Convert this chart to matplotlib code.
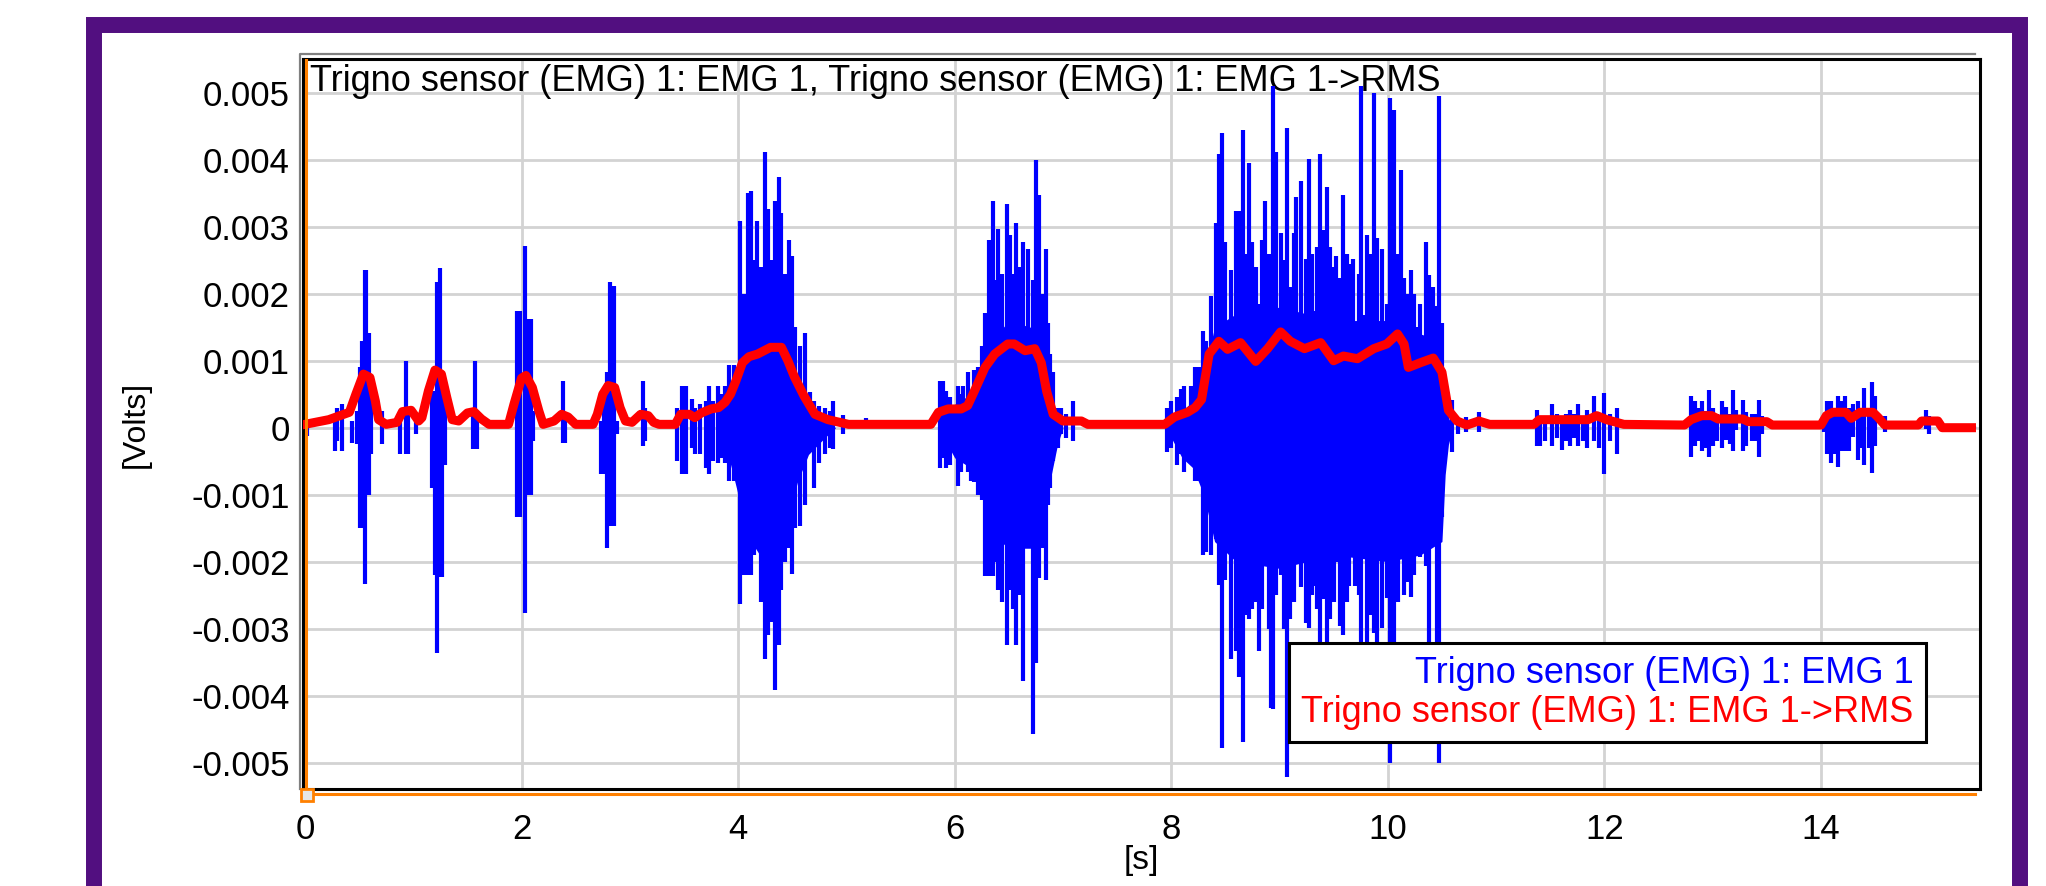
import numpy as np
import matplotlib
matplotlib.use("Agg")
import matplotlib.pyplot as plt
from matplotlib.patches import Rectangle
from matplotlib.lines import Line2D

plt.rcParams['font.family'] = ['Liberation Sans', 'DejaVu Sans']

raw_name = "Trigno sensor (EMG) 1: EMG 1"
rms_name = "Trigno sensor (EMG) 1: EMG 1->RMS"

# RMS envelope, time [s] and value [mV]
rms_t = [0.0, 0.22, 0.41, 0.47, 0.54, 0.6, 0.65, 0.68, 0.75, 0.85, 0.9, 0.98, 1.05, 1.08,
         1.14, 1.2, 1.26, 1.31, 1.36, 1.42, 1.5, 1.56, 1.63, 1.7, 1.88, 1.93, 2.0, 2.04,
         2.1, 2.16, 2.2, 2.3, 2.37, 2.43, 2.5, 2.66, 2.7, 2.75, 2.8, 2.86, 2.91, 2.96,
         3.02, 3.1, 3.17, 3.22, 3.27, 3.42, 3.47, 3.55, 3.6, 3.66, 3.75, 3.82, 3.88, 3.93,
         3.98, 4.04, 4.1, 4.18, 4.3, 4.4, 4.46, 4.52, 4.61, 4.71, 4.83, 5.02, 5.78, 5.85,
         5.94, 6.06, 6.12, 6.18, 6.28, 6.37, 6.49, 6.55, 6.65, 6.74, 6.8, 6.85, 6.91, 7.0,
         7.17, 7.23, 7.94, 8.03, 8.15, 8.22, 8.28, 8.35, 8.44, 8.52, 8.64, 8.78, 8.89, 9.01,
         9.1, 9.23, 9.38, 9.5, 9.59, 9.72, 9.87, 9.99, 10.09, 10.15, 10.19, 10.3, 10.42, 10.5,
         10.53, 10.56, 10.64, 10.73, 10.84, 10.94, 11.35, 11.4, 11.85, 11.93, 12.02, 12.18,
         12.74, 12.8, 12.9, 12.99, 13.05, 13.28, 13.33, 13.5, 13.55, 14.0, 14.05, 14.11,
         14.23, 14.28, 14.36, 14.48, 14.53, 14.59, 14.9, 14.93, 15.08, 15.12, 15.39]
rms_mv = [0.05, 0.12, 0.23, 0.5, 0.8, 0.75, 0.4, 0.12, 0.05, 0.08, 0.24, 0.26, 0.1, 0.15,
          0.55, 0.86, 0.8, 0.45, 0.12, 0.1, 0.22, 0.24, 0.13, 0.05, 0.05, 0.35, 0.74, 0.78,
          0.6, 0.25, 0.05, 0.1, 0.2, 0.16, 0.05, 0.05, 0.2, 0.5, 0.63, 0.6, 0.3, 0.1,
          0.08, 0.2, 0.18, 0.08, 0.05, 0.05, 0.2, 0.2, 0.15, 0.22, 0.28, 0.3, 0.38, 0.5,
          0.7, 0.97, 1.06, 1.1, 1.2, 1.2, 1.0, 0.76, 0.47, 0.2, 0.12, 0.05, 0.05, 0.23,
          0.28, 0.28, 0.33, 0.54, 0.9, 1.1, 1.25, 1.25, 1.15, 1.18, 0.97, 0.54, 0.2, 0.1,
          0.1, 0.05, 0.05, 0.16, 0.23, 0.3, 0.42, 1.1, 1.29, 1.17, 1.27, 0.99, 1.18, 1.43,
          1.29, 1.18, 1.27, 1.0, 1.07, 1.03, 1.18, 1.25, 1.4, 1.25, 0.9, 0.97, 1.04, 0.83,
          0.54, 0.26, 0.1, 0.04, 0.1, 0.05, 0.05, 0.12, 0.12, 0.18, 0.12, 0.05,
          0.04, 0.12, 0.18, 0.18, 0.13, 0.13, 0.09, 0.09, 0.04, 0.04, 0.18, 0.23,
          0.23, 0.14, 0.23, 0.23, 0.15, 0.04, 0.04, 0.1, 0.1, 0.0, 0.0]

# solid core of the three long raw EMG bursts [mV]
core_t = [3.9, 4.0, 4.08, 4.2, 4.35, 4.45, 4.55, 4.65, 4.8, 4.9,
          5.85, 6.0, 6.15, 6.25, 6.35, 6.5, 6.7, 6.8, 6.88, 6.95, 7.0,
          7.95, 8.1, 8.2, 8.3, 8.4, 8.6, 9.0, 9.5, 10.0, 10.3, 10.5, 10.53, 10.56, 10.6]
core_hi = [0.3, 0.8, 1.3, 1.7, 1.6, 1.3, 0.7, 0.3, 0.12, 0.0,
           0.0, 0.35, 0.5, 0.8, 1.3, 1.6, 1.5, 1.2, 0.5, 0.15, 0.0,
           0.0, 0.25, 0.4, 0.8, 1.5, 1.7, 1.8, 1.6, 1.6, 1.4, 1.3, 0.5, 0.15, 0.0]
core_lo = [-0.35, -1.0, -1.6, -1.9, -1.8, -1.4, -0.8, -0.4, -0.15, 0.0,
           0.0, -0.45, -0.6, -1.0, -1.6, -1.8, -1.8, -1.4, -0.8, -0.25, 0.0,
           0.0, -0.45, -0.6, -1.0, -1.7, -2.0, -2.1, -1.9, -2.0, -1.9, -1.7, -0.7, -0.25, 0.0]

# raw EMG spikes: time [s], positive and negative excursion [mV]
spike_t = [0.02, 0.28, 0.3, 0.34, 0.43, 0.48, 0.51, 0.53, 0.555, 0.565, 0.59, 0.61, 0.71,
           0.88, 0.93, 0.95, 1.03, 1.17, 1.2, 1.22, 1.245, 1.265, 1.29, 1.55, 1.57, 1.59,
           1.96, 1.99, 2.03, 2.06, 2.09, 2.11, 2.38, 2.4, 2.73, 2.76, 2.79, 2.82, 2.85, 2.88,
           3.12, 3.14, 3.44, 3.48, 3.52, 3.57, 3.6, 3.65, 3.7, 3.73, 3.77, 3.81, 3.85, 3.88,
           3.92, 3.96, 4.02, 4.05, 4.09, 4.12, 4.15, 4.17, 4.21, 4.25, 4.28, 4.31, 4.34, 4.38,
           4.4, 4.43, 4.47, 4.5, 4.53, 4.57, 4.62, 4.66, 4.7, 4.75, 4.8, 4.85, 4.88, 4.97, 5.18,
           5.86, 5.89, 5.92, 5.96, 6.03, 6.06, 6.08, 6.12, 6.15, 6.18, 6.22, 6.25, 6.28, 6.32,
           6.35, 6.38, 6.4, 6.44, 6.48, 6.51, 6.54, 6.57, 6.6, 6.63, 6.68, 6.72, 6.75, 6.78,
           6.81, 6.84, 6.86, 6.88, 6.91, 6.95, 6.98, 7.03, 7.09,
           7.96, 8.0, 8.05, 8.09, 8.12, 8.18, 8.22, 8.26, 8.29, 8.32, 8.37, 8.41, 8.44, 8.47,
           8.5, 8.55, 8.6, 8.63, 8.66, 8.69, 8.72, 8.75, 8.78, 8.81, 8.84, 8.87, 8.9, 8.92,
           8.94, 8.97, 9.01, 9.04, 9.07, 9.1, 9.13, 9.15, 9.2, 9.24, 9.27, 9.3, 9.32, 9.35,
           9.37, 9.41, 9.44, 9.47, 9.5, 9.52, 9.56, 9.59, 9.62, 9.64, 9.68, 9.7, 9.73, 9.75,
           9.78, 9.81, 9.84, 9.87, 9.9, 9.95, 9.99, 10.02, 10.06, 10.09, 10.12, 10.15, 10.18,
           10.21, 10.24, 10.27, 10.3, 10.35, 10.38, 10.42, 10.45, 10.47, 10.5, 10.55, 10.59,
           10.65, 10.72, 10.84,
           11.38, 11.41, 11.45, 11.52, 11.56, 11.61, 11.65, 11.68, 11.72, 11.76, 11.8, 11.84,
           11.9, 11.95, 12.0, 12.05, 12.12,
           12.8, 12.84, 12.87, 12.9, 12.94, 12.97, 13.0, 13.04, 13.09, 13.12, 13.16, 13.19,
           13.22, 13.28, 13.31, 13.36, 13.4, 13.43, 13.46,
           14.03, 14.06, 14.09, 14.12, 14.16, 14.19, 14.22, 14.26, 14.3, 14.34, 14.37, 14.4,
           14.44, 14.47, 14.5, 14.59, 14.97, 15.0, 15.41]
spike_hi = [0.12, 0.2, 0.3, 0.35, 0.1, 0.25, 0.9, 1.29, 2.35, 2.35, 1.41, 0.6, 0.25,
            0.2, 0.99, 0.25, 0.1, 0.55, 0.55, 2.17, 2.38, 0.55, 0.5, 0.25, 0.99, 0.2,
            1.75, 1.75, 2.72, 1.62, 1.62, 0.25, 0.69, 0.2, 0.1, 0.55, 0.83, 2.17, 2.11, 0.1,
            0.69, 0.3, 0.3, 0.63, 0.63, 0.43, 0.3, 0.35, 0.4, 0.62, 0.4, 0.63, 0.5, 0.63,
            0.93, 0.93, 3.09, 2.0, 3.5, 3.53, 2.5, 3.09, 2.4, 4.12, 3.27, 2.5, 3.39, 3.74,
            3.2, 2.3, 2.81, 2.56, 1.5, 1.22, 1.41, 0.54, 0.4, 0.33, 0.3, 0.25, 0.4, 0.19, 0.14,
            0.69, 0.69, 0.55, 0.46, 0.63, 0.5, 0.63, 0.83, 0.5, 0.86, 0.9, 1.22, 1.71, 2.81,
            3.39, 2.2, 2.96, 2.3, 3.34, 2.88, 2.3, 3.06, 2.4, 2.77, 2.67, 2.2, 3.99, 3.48,
            2.0, 2.67, 1.57, 1.1, 0.83, 0.3, 0.3, 0.2, 0.4,
            0.3, 0.4, 0.46, 0.58, 0.63, 0.62, 0.9, 0.9, 1.45, 1.3, 1.96, 3.06, 4.08, 4.4,
            2.77, 2.35, 3.23, 3.23, 4.45, 2.6, 3.95, 2.77, 2.4, 1.85, 2.8, 3.39, 2.6, 2.11,
            5.1, 4.12, 2.91, 2.5, 4.47, 2.1, 2.9, 3.44, 3.69, 2.52, 4.01, 2.6, 1.75, 2.7,
            4.08, 2.95, 3.6, 2.7, 2.4, 2.56, 2.24, 3.48, 2.6, 2.45, 2.52, 1.18, 2.3, 5.1,
            1.68, 2.88, 2.6, 5.0, 2.84, 2.67, 1.85, 4.93, 4.75, 2.6, 3.85, 2.24, 2.0,
            2.35, 2.0, 1.5, 1.85, 2.77, 2.28, 2.1, 1.82, 4.96, 1.57, 0.44, 0.42,
            0.15, 0.16, 0.23,
            0.26, 0.1, 0.15, 0.35, 0.2, 0.15, 0.2, 0.26, 0.2, 0.35, 0.15, 0.26,
            0.47, 0.2, 0.52, 0.2, 0.3,
            0.47, 0.4, 0.3, 0.4, 0.25, 0.56, 0.29, 0.2, 0.4, 0.31, 0.2, 0.56,
            0.27, 0.42, 0.23, 0.2, 0.2, 0.42, 0.18,
            0.14, 0.4, 0.4, 0.3, 0.47, 0.4, 0.47, 0.3, 0.36, 0.4, 0.3, 0.6,
            0.3, 0.68, 0.47, 0.18, 0.27, 0.18, 0.02]
spike_lo = [-0.12, -0.35, -0.2, -0.35, -0.23, -0.25, -1.5, -1.5, -2.34, -1.0, -1.0, -0.4, -0.25,
            -0.4, -0.4, -0.4, -0.1, -0.9, -2.2, -3.36, -2.23, -2.23, -0.55, -0.32, -0.32, -0.32,
            -1.33, -1.33, -2.77, -1.0, -1.0, -0.2, -0.23, -0.23, -0.69, -0.69, -1.79, -1.47, -1.47, -0.1,
            -0.28, -0.2, -0.5, -0.69, -0.69, -0.3, -0.4, -0.4, -0.6, -0.69, -0.5, -0.52, -0.45, -0.52,
            -0.8, -0.8, -2.64, -2.2, -2.2, -2.2, -1.9, -1.68, -2.6, -3.45, -3.1, -2.9, -3.91, -3.24,
            -2.43, -2.0, -1.79, -2.18, -1.5, -1.47, -1.15, -0.36, -0.9, -0.53, -0.4, -0.3, -0.32, -0.09, 0.0,
            -0.6, -0.45, -0.6, -0.55, -0.87, -0.66, -0.5, -0.66, -0.8, -0.81, -1.0, -1.08, -2.21, -2.21,
            -2.21, -2.0, -2.43, -2.6, -3.24, -2.43, -2.7, -3.24, -2.5, -3.78, -1.47, -4.58, -3.52, -2.25,
            -1.8, -2.28, -1.15, -0.9, -0.5, -0.3, -0.09, -0.15, -0.2,
            -0.36, -0.3, -0.55, -0.4, -0.66, -0.5, -0.8, -0.8, -1.9, -1.86, -1.9, -1.66, -2.35, -4.79,
            -2.28, -3.45, -3.34, -3.73, -4.69, -2.8, -2.85, -2.71, -2.6, -3.34, -2.7, -1.82, -3.0, -4.19,
            -4.2, -2.5, -2.2, -3.0, -5.22, -2.85, -2.6, -1.62, -2.38, -2.92, -2.99, -2.5, -2.36, -2.7,
            -3.27, -2.56, -3.2, -2.85, -2.6, -2.0, -2.96, -3.1, -2.6, -2.36, -1.4, -2.36, -2.5, -4.69,
            -1.58, -3.7, -2.8, -3.06, -3.27, -2.99, -2.54, -5.0, -3.27, -2.6, -1.47, -2.5, -2.3,
            -2.53, -2.2, -1.86, -1.93, -2.07, -3.24, -1.72, -3.27, -5.0, -1.33, -0.15, -0.36,
            -0.1, -0.07, -0.07,
            -0.27, -0.27, -0.2, -0.27, -0.15, -0.34, -0.2, -0.27, -0.15, -0.27, -0.2, -0.3,
            -0.2, -0.3, -0.69, -0.2, -0.39,
            -0.44, -0.28, -0.2, -0.35, -0.3, -0.44, -0.28, -0.2, -0.31, -0.19, -0.25, -0.35,
            -0.04, -0.35, -0.28, -0.2, -0.2, -0.44, -0.09,
            -0.07, -0.39, -0.52, -0.4, -0.59, -0.35, -0.35, -0.35, -0.14, -0.48, -0.3, -0.56,
            -0.3, -0.68, -0.28, -0.07, -0.02, -0.09, -0.02]

x_ticks = [0, 2, 4, 6, 8, 10, 12, 14]
y_ticks = [0.005, 0.004, 0.003, 0.002, 0.001, 0.0, -0.001, -0.002, -0.003, -0.004, -0.005]
y_labels = ["0.005", "0.004", "0.003", "0.002", "0.001", "0",
            "-0.001", "-0.002", "-0.003", "-0.004", "-0.005"]

mv = 1e-3
orange = '#FF8000'

fig = plt.figure(figsize=(20.46, 8.86), dpi=100)
fig.patch.set_facecolor('white')
ax = fig.add_axes([0.1481, 0.1091, 0.8197, 0.8239])
ax.set_axisbelow(True)
ax.grid(True, color='#d3d3d3', lw=2.0)

ax.fill_between(core_t, np.array(core_lo) * mv, np.array(core_hi) * mv,
                color='blue', lw=0, zorder=2)
raw = ax.vlines(spike_t, np.array(spike_lo) * mv, np.array(spike_hi) * mv,
                colors='blue', lw=3.0, zorder=2)
rms, = ax.plot(rms_t, np.array(rms_mv) * mv, color='red', lw=6.5, zorder=3)

ax.text(0.0042, 0.956, raw_name + ", " + rms_name, transform=ax.transAxes,
        fontsize=26, ha='left', va='baseline', zorder=1)

ax.set_xlim(-0.018, 15.47)
ax.set_ylim(-0.0054, 0.0055)
ax.set_xticks(x_ticks)
ax.set_xticklabels([str(v) for v in x_ticks])
ax.set_yticks(y_ticks)
ax.set_yticklabels(y_labels)
ax.tick_params(length=0, labelsize=25)
ax.tick_params(axis='y', pad=9.4)
ax.tick_params(axis='x', pad=17)

ax.set_xlabel('[s]', fontsize=24)
ax.xaxis.set_label_coords(0.5, -0.076)
ax.set_ylabel('[Volts]', fontsize=23)
ax.yaxis.set_label_coords(-0.091, 0.5)

for s in ax.spines.values():
    s.set_color('black')
    s.set_linewidth(2.2)

# orange axis lines, grey outer frame, little corner marker
ax.add_line(Line2D([0.0018, 0.0018], [0, 1], transform=ax.transAxes,
                   color=orange, lw=2.2, zorder=5))
ax.add_line(Line2D([0, 0.997], [-0.0068, -0.0068], transform=ax.transAxes,
                   color=orange, lw=2.2, clip_on=False))
ax.add_line(Line2D([-0.0018, -0.0018, 0.997], [0, 1.0068, 1.0068], transform=ax.transAxes,
                   color='#808080', lw=1.6, clip_on=False))
ax.add_line(Line2D([0.0025], [-0.008], transform=ax.transAxes, marker='s', ms=8,
                   mfc='#e6e6e6', mec=orange, mew=2, clip_on=False, zorder=6))

leg = ax.legend([raw, rms], [raw_name, rms_name], loc='lower right',
                bbox_to_anchor=(0.9678, 0.0644), borderaxespad=0,
                handlelength=0, handletextpad=0, markerfirst=False,
                labelcolor=['blue', 'red'], fontsize=26, fancybox=False,
                framealpha=1, edgecolor='black', labelspacing=0.1, borderpad=0.35)
leg.get_frame().set_linewidth(2.2)
leg.set_zorder(10)

# purple frame round the whole picture
fig.add_artist(Rectangle((94 / 2046, -2 / 886), (2020 - 94) / 2046, (888 - 25) / 886,
                         transform=fig.transFigure, fill=False, ec='#520F80',
                         lw=11.5, joinstyle='miter'))

fig.savefig('out.png', dpi=100)
